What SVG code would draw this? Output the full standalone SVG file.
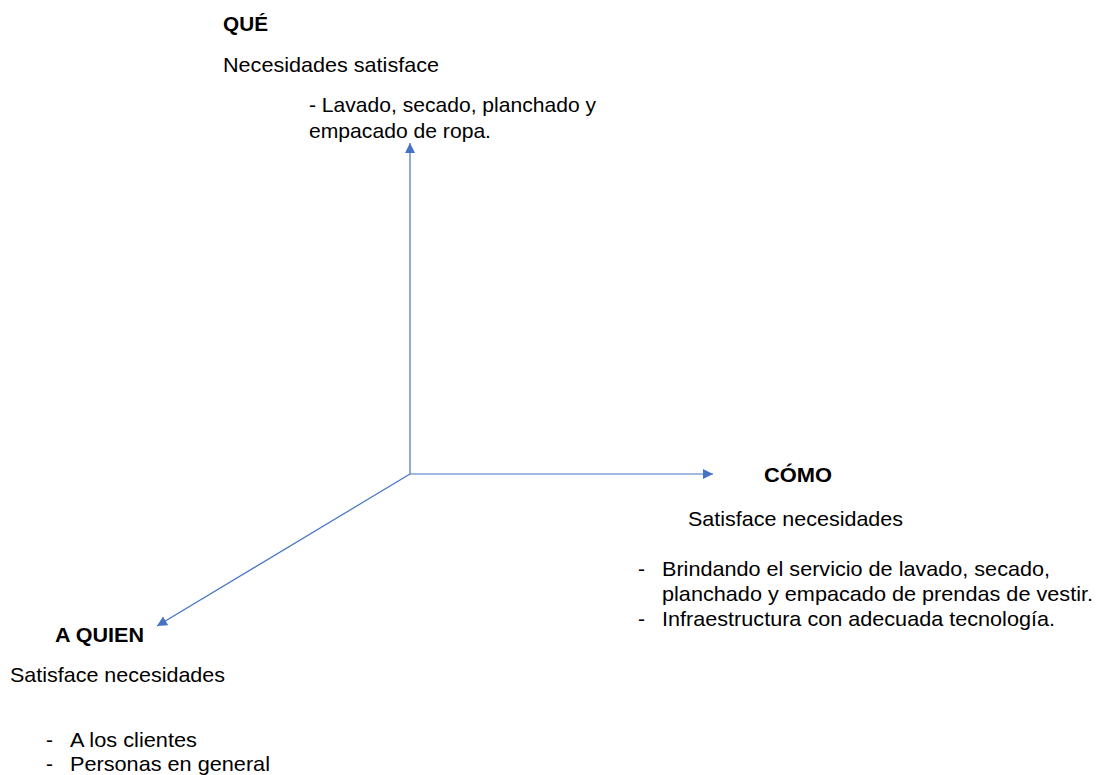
<svg xmlns="http://www.w3.org/2000/svg" width="1102" height="775" viewBox="0 0 1102 775">
  <style>
    text { font-family: "Liberation Sans", Arial, sans-serif; font-size: 21px; fill: #000; }
    .h { font-weight: bold; }
    .axis { stroke: #4472c4; stroke-width: 1.2; fill: none; }
  </style>
  <defs>
    <marker id="arrow" viewBox="0 0 10 10" refX="10" refY="5" markerWidth="11" markerHeight="10" markerUnits="userSpaceOnUse" orient="auto">
      <path d="M0,0 L10,5 L0,10 z" fill="#4472c4"/>
    </marker>
  </defs>
  <rect width="1102" height="775" fill="#fff"/>

  <!-- three axes from a common origin -->
  <g id="connectors">
    <line class="axis" x1="410" y1="474" x2="410" y2="143" marker-end="url(#arrow)"/>
    <line class="axis" x1="410" y1="474" x2="713" y2="474" marker-end="url(#arrow)"/>
    <line class="axis" x1="410" y1="474" x2="157" y2="626" marker-end="url(#arrow)"/>
  </g>

  <g id="que">
    <text class="h" x="223" y="31" textLength="45" lengthAdjust="spacingAndGlyphs">QUÉ</text>
    <text x="223" y="72" textLength="216" lengthAdjust="spacingAndGlyphs">Necesidades satisface</text>
    <text x="309" y="112" textLength="287" lengthAdjust="spacingAndGlyphs">- Lavado, secado, planchado y</text>
    <text x="309" y="138" textLength="182" lengthAdjust="spacingAndGlyphs">empacado de ropa.</text>
  </g>

  <g id="como">
    <text class="h" x="764" y="482" textLength="68" lengthAdjust="spacingAndGlyphs">CÓMO</text>
    <text x="688" y="526" textLength="215" lengthAdjust="spacingAndGlyphs">Satisface necesidades</text>
    <text x="638" y="576">-</text>
    <text x="662" y="576" textLength="388" lengthAdjust="spacingAndGlyphs">Brindando el servicio de lavado, secado,</text>
    <text x="662" y="601" textLength="431" lengthAdjust="spacingAndGlyphs">planchado y empacado de prendas de vestir.</text>
    <text x="638" y="626">-</text>
    <text x="662" y="626" textLength="393" lengthAdjust="spacingAndGlyphs">Infraestructura con adecuada tecnología.</text>
  </g>

  <g id="a-quien">
    <text class="h" x="55" y="642" textLength="89" lengthAdjust="spacingAndGlyphs">A QUIEN</text>
    <text x="10" y="682" textLength="215" lengthAdjust="spacingAndGlyphs">Satisface necesidades</text>
    <text x="46" y="747">-</text>
    <text x="70" y="747" textLength="127" lengthAdjust="spacingAndGlyphs">A los clientes</text>
    <text x="46" y="771">-</text>
    <text x="70" y="771" textLength="200" lengthAdjust="spacingAndGlyphs">Personas en general</text>
  </g>
</svg>
